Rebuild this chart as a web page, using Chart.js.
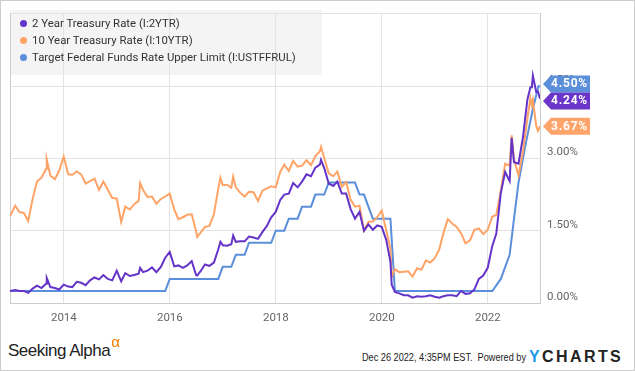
<!DOCTYPE html>
<html>
<head>
<meta charset="utf-8">
<script src="https://cdn.jsdelivr.net/npm/chart.js@4.4.1/dist/chart.umd.min.js"></script>
<style>
  html, body { margin: 0; padding: 0; background: #fff; }
  #frame { position: absolute; left: 0; top: 0; width: 635px; height: 371px; box-sizing: border-box; border: 1px solid #cccccc; }
  #wrap { position: absolute; left: 0; top: 0; width: 635px; height: 335px; }
  #legend { position: absolute; left: 10px; top: 10px; width: 312px; height: 65px; font-family: Roboto, sans-serif; font-size: 11.4px; color: #333; }
  .li { position: absolute; left: 22px; height: 16px; line-height: 16px; white-space: nowrap; }
  .dot { position: absolute; left: -12px; top: 5px; width: 7px; height: 7px; border-radius: 50%; }
  #sa { position: absolute; left: 8px; top: 341px; font-family: "Liberation Sans", Arial, sans-serif; font-size: 17px; color: #222; letter-spacing: -0.5px; white-space: nowrap; }
  #sa sup { color: #f57c00; font-size: 15px; position: relative; top: -8px; vertical-align: top; margin-left: 1px; }
  #stamp { position: absolute; left: 362px; top: 351px; font-family: "Liberation Sans", Arial, sans-serif; font-size: 11px; color: #222; white-space: nowrap; transform-origin: 0 50%; }
  #yc { position: absolute; left: 529px; top: 348px; font-family: "Liberation Sans", Arial, sans-serif; font-weight: bold; font-size: 16px; letter-spacing: 2.4px; color: #222; }
  #yc span { color: #1a9be6; }
</style>
</head>
<body>
<div id="frame"></div>
<div id="wrap"><canvas id="c" width="635" height="335"></canvas></div>
<div id="legend"></div>
<div id="sa">Seeking Alpha<sup>α</sup></div>
<div id="stamp">Dec 26 2022, 4:35PM EST.&nbsp; Powered by</div>
<div id="yc"><span>Y</span>CHARTS</div>
<script>
// ---------- DATA ----------
const seriesNames = ["2 Year Treasury Rate (I:2YTR)", "10 Year Treasury Rate (I:10YTR)", "Target Federal Funds Rate Upper Limit (I:USTFFRUL)"];
const seriesColors = ["#6433c8", "#ffa366", "#5b8edb"];

const treasuryDates = [
"2012-12-26","2013-01-31","2013-02-28","2013-03-31","2013-04-30","2013-05-31","2013-06-30","2013-07-31","2013-08-31","2013-09-05","2013-09-30","2013-10-31","2013-11-30","2013-12-31",
"2014-01-31","2014-02-28","2014-03-31","2014-04-30","2014-05-31","2014-06-30","2014-07-31","2014-08-31","2014-09-30","2014-10-31","2014-11-30","2014-12-31",
"2015-01-31","2015-02-28","2015-03-31","2015-04-30","2015-05-31","2015-06-10","2015-06-30","2015-07-31","2015-08-31","2015-09-30","2015-10-31","2015-11-30","2015-12-31",
"2016-01-31","2016-02-29","2016-03-31","2016-04-30","2016-05-31","2016-06-30","2016-07-08","2016-07-31","2016-08-31","2016-09-30","2016-10-31","2016-11-30","2016-12-15","2016-12-31",
"2017-01-31","2017-02-28","2017-03-13","2017-03-31","2017-04-30","2017-05-31","2017-06-30","2017-07-31","2017-08-31","2017-09-30","2017-10-31","2017-11-30","2017-12-31",
"2018-01-31","2018-02-28","2018-03-31","2018-04-30","2018-05-31","2018-06-30","2018-07-31","2018-08-31","2018-09-30","2018-10-31","2018-11-08","2018-11-30","2018-12-31",
"2019-01-31","2019-02-28","2019-03-31","2019-04-30","2019-05-31","2019-06-30","2019-07-31","2019-08-31","2019-09-30","2019-10-31","2019-11-30","2019-12-31",
"2020-01-31","2020-02-29","2020-03-09","2020-03-31","2020-04-30","2020-05-31","2020-06-30","2020-07-31","2020-08-31","2020-09-30","2020-10-31","2020-11-30","2020-12-31",
"2021-01-31","2021-02-28","2021-03-31","2021-04-30","2021-05-31","2021-06-30","2021-07-31","2021-08-31","2021-09-30","2021-10-31","2021-11-30","2021-12-31",
"2022-01-31","2022-02-28","2022-03-31","2022-04-30","2022-05-31","2022-06-14","2022-06-30","2022-07-31","2022-08-31","2022-09-30","2022-10-21","2022-10-31","2022-11-07","2022-11-30","2022-12-12","2022-12-26"
];
const twoYear = [
0.25,0.27,0.25,0.25,0.21,0.30,0.36,0.31,0.40,0.52,0.33,0.31,0.28,0.38,
0.34,0.33,0.44,0.42,0.37,0.47,0.53,0.49,0.58,0.50,0.47,0.67,
0.45,0.62,0.56,0.58,0.61,0.73,0.64,0.67,0.74,0.64,0.75,0.94,1.06,
0.76,0.78,0.73,0.78,0.87,0.58,0.57,0.66,0.80,0.77,0.84,1.11,1.27,1.20,
1.19,1.22,1.40,1.27,1.28,1.28,1.38,1.36,1.33,1.47,1.60,1.78,1.89,
2.14,2.25,2.27,2.49,2.40,2.52,2.67,2.63,2.81,2.87,2.97,2.80,2.48,
2.43,2.52,2.27,2.27,1.95,1.75,1.89,1.50,1.63,1.52,1.61,1.58,
1.31,0.86,0.38,0.23,0.20,0.16,0.16,0.11,0.14,0.13,0.14,0.16,0.13,
0.11,0.14,0.16,0.16,0.14,0.25,0.19,0.20,0.28,0.50,0.57,0.73,
1.18,1.44,2.28,2.72,2.53,3.43,2.92,2.89,3.45,4.22,4.48,4.48,4.72,4.38,4.39,4.24
];
const tenYear = [
1.80,2.02,1.89,1.87,1.70,2.16,2.52,2.60,2.78,2.98,2.64,2.57,2.75,3.04,
2.67,2.66,2.73,2.67,2.48,2.53,2.58,2.35,2.52,2.35,2.18,2.17,
1.68,2.00,1.94,2.05,2.12,2.49,2.35,2.20,2.21,2.06,2.16,2.21,2.27,
1.94,1.74,1.78,1.83,1.84,1.49,1.37,1.46,1.58,1.60,1.84,2.37,2.60,2.45,
2.45,2.39,2.62,2.40,2.29,2.21,2.31,2.30,2.12,2.33,2.38,2.42,2.40,
2.72,2.87,2.74,2.95,2.83,2.85,2.96,2.86,3.05,3.15,3.24,3.01,2.69,
2.63,2.73,2.41,2.51,2.14,2.00,2.02,1.50,1.68,1.69,1.78,1.92,
1.51,1.13,0.54,0.70,0.64,0.65,0.66,0.55,0.72,0.69,0.88,0.84,0.93,
1.11,1.44,1.74,1.65,1.58,1.45,1.24,1.30,1.52,1.55,1.43,1.52,
1.79,1.83,2.32,2.89,2.85,3.48,2.98,2.65,3.15,3.83,4.25,4.10,4.21,3.68,3.57,3.67
];
const fedDates = [
"2012-12-26","2015-11-30","2015-12-31","2016-11-30","2016-12-31","2017-02-28","2017-03-31","2017-05-31","2017-06-30","2017-11-30","2017-12-31",
"2018-02-28","2018-03-31","2018-05-31","2018-06-30","2018-08-31","2018-09-30","2018-11-30","2018-12-31","2019-06-30","2019-07-31","2019-08-31",
"2019-09-30","2019-10-31","2020-02-29","2020-03-31","2022-02-01","2022-03-31","2022-05-31","2022-06-30","2022-07-31","2022-09-15","2022-11-05","2022-12-15","2022-12-26"
];
const fedUpper = [
0.25,0.25,0.50,0.50,0.75,0.75,1.00,1.00,1.25,1.25,1.50,
1.50,1.75,1.75,2.00,2.00,2.25,2.25,2.50,2.50,2.25,2.25,
2.00,1.75,1.75,0.25,0.25,0.50,1.00,1.75,2.50,3.25,4.00,4.50,4.50
];
const yearTicks = [2014, 2016, 2018, 2020, 2022];
const yTicks = [0, 1.5, 3, 4.5, 6];

// ---------- HELPERS ----------
function toYear(s) {
  const [y, m, d] = s.split("-").map(Number);
  const t = Date.UTC(y, m - 1, d), a = Date.UTC(y, 0, 1), b = Date.UTC(y + 1, 0, 1);
  return y + (t - a) / (b - a);
}
function pts(dates, vals) { return dates.map((d, i) => ({ x: toYear(d), y: vals[i] })); }

// condensed timestamp: fit to the reference width
const stamp = document.getElementById("stamp");
stamp.style.transform = "scaleX(" + (164 / stamp.getBoundingClientRect().width).toFixed(3) + ")";

// legend (HTML)
const legendEl = document.getElementById("legend");
seriesNames.forEach((n, i) => {
  const d = document.createElement("div");
  d.className = "li";
  d.style.top = (5 + i * 17) + "px";
  d.innerHTML = '<span class="dot" style="background:' + seriesColors[i] + '"></span>' + n;
  legendEl.appendChild(d);
});

const bgPlugin = {
  id: "bg",
  beforeDraw(chart) {
    const ctx = chart.ctx;
    ctx.save();
    ctx.fillStyle = "#f4f4f4";
    ctx.fillRect(10, 10, 312, 65);
    ctx.restore();
  },
  beforeDatasetsDraw(chart) {
    const { ctx, chartArea: a } = chart;
    ctx.save();
    ctx.strokeStyle = "#cccccc";
    ctx.lineWidth = 1;
    ctx.beginPath();
    ctx.moveTo(a.left + 0.5, a.top);
    ctx.lineTo(a.left + 0.5, a.bottom);
    ctx.stroke();
    ctx.restore();
  }
};

const endLabelPlugin = {
  id: "endLabels",
  afterDraw(chart) {
    const ctx = chart.ctx, ys = chart.scales.y;
    const items = chart.data.datasets.map((ds, i) => {
      const last = ds.data[ds.data.length - 1].y;
      return { v: last, y: ys.getPixelForValue(last), c: ds.labelColor, i };
    }).sort((a, b) => a.y - b.y);
    const h = 17;
    for (let k = 0; k < 5; k++) {
      for (let j = 1; j < items.length; j++) {
        const gap = items[j].y - items[j - 1].y;
        if (gap < h) {
          const push = (h - gap) / 2;
          items[j - 1].y -= push;
          items[j].y += push;
        }
      }
    }
    items.forEach(it => {
      const tip = 543, l = 551, r = 590, t = it.y - h / 2;
      ctx.save();
      ctx.fillStyle = it.c;
      ctx.beginPath();
      ctx.moveTo(tip, it.y);
      ctx.lineTo(l, t);
      ctx.lineTo(r, t);
      ctx.lineTo(r, t + h);
      ctx.lineTo(l, t + h);
      ctx.closePath();
      ctx.fill();
      ctx.fillStyle = "#fff";
      ctx.font = "bold 12px Roboto";
      if ("letterSpacing" in ctx) ctx.letterSpacing = "0.8px";
      ctx.textAlign = "center";
      ctx.textBaseline = "middle";
      ctx.fillText(it.v.toFixed(2) + "%", (l + r) / 2 - 1, it.y + 0.5);
      ctx.restore();
    });
  }
};

new Chart(document.getElementById("c"), {
  type: "line",
  data: {
    datasets: [
      { label: seriesNames[0], data: pts(treasuryDates, twoYear), borderColor: seriesColors[0], labelColor: "#6a35c8", borderWidth: 2, pointRadius: 0, tension: 0 },
      { label: seriesNames[1], data: pts(treasuryDates, tenYear), borderColor: seriesColors[1], labelColor: "#ffa56b", borderWidth: 2, pointRadius: 0, tension: 0 },
      { label: seriesNames[2], data: pts(fedDates, fedUpper), borderColor: seriesColors[2], labelColor: "#5b8fd9", borderWidth: 2, pointRadius: 0, tension: 0 }
    ]
  },
  options: {
    responsive: false,
    animation: false,
    events: [],
    layout: { padding: { left: 10, top: 10, right: 0, bottom: 0 } },
    plugins: { legend: { display: false }, tooltip: { enabled: false } },
    scales: {
      x: {
        type: "linear",
        min: toYear("2012-12-26"),
        max: toYear("2022-12-26"),
        afterBuildTicks: s => { s.ticks = yearTicks.map(v => ({ value: v })); },
        afterFit: s => { s.height = 32; },
        grid: { color: "#e3e3e3", drawTicks: false },
        border: { display: true, color: "#cccccc" },
        ticks: { padding: 8, color: "#666", font: { family: "Roboto", size: 11.5 }, callback: v => String(v), maxRotation: 0, autoSkip: false }
      },
      y: {
        position: "right",
        min: 0, max: 6,
        afterBuildTicks: s => { s.ticks = yTicks.map(v => ({ value: v })); },
        afterFit: s => { s.width = 95; },
        grid: { color: "#e3e3e3", drawTicks: false },
        border: { display: true, color: "#cccccc" },
        ticks: { padding: 7, labelOffset: -6, color: "#666", font: { family: "Roboto", size: 11.5 }, callback: v => v >= 6 ? "" : v.toFixed(2) + "%" }
      }
    }
  },
  plugins: [bgPlugin, endLabelPlugin]
});
</script>
</body>
</html>
